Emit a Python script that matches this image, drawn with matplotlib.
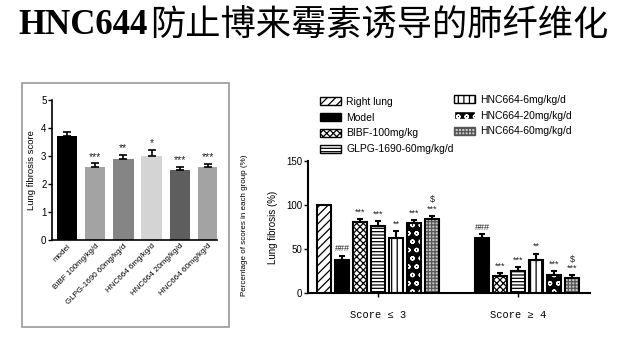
import numpy as np
import matplotlib
matplotlib.use('Agg')
import matplotlib.pyplot as plt
import matplotlib.patches as patches
from matplotlib.patches import Patch

plt.rcParams['font.family'] = ['Liberation Sans', 'DejaVu Sans']
plt.rcParams['hatch.linewidth'] = 0.9

# ---- data: left panel (lung fibrosis score) ----
left_groups = ['model', 'BIBF 100mg/kg/d', 'GLPG-1690 60mg/kg/d',
               'HNC664 6mg/kg/d', 'HNC664 20mg/kg/d', 'HNC664 60mg/kg/d']
left_means = [3.72, 2.62, 2.88, 3.00, 2.50, 2.60]
left_errs = [0.12, 0.12, 0.17, 0.21, 0.10, 0.11]
left_sig = ['', '***', '**', '*', '***', '***']
left_colors = ['#000000', '#a3a3a3', '#858585', '#d4d4d4', '#5e5e5e', '#a3a3a3']

# ---- data: right panel (percentage of scores) ----
series = ['Right lung', 'Model', 'BIBF-100mg/kg', 'GLPG-1690-60mg/kg/d',
          'HNC664-6mg/kg/d', 'HNC664-20mg/kg/d', 'HNC664-60mg/kg/d']
score_labels = ['Score \u2264 3', 'Score \u2265 4']
low_means = [100, 38, 80.5, 76, 63, 79, 84]
low_errs = [0, 4.5, 3.5, 5.5, 7, 3.5, 3.5]
high_means = [0, 62, 19, 24.5, 37, 20.5, 16.5]
high_errs = [0, 4.5, 3.5, 5, 7.5, 4.5, 3.5]
low_sig = ['', '###', '***', '***', '**', '***', '$\n***']
high_sig = ['', '###', '***', '***', '**', '***', '$\n***']

W, H = 626, 345
fig = plt.figure(figsize=(W / 100, H / 100), dpi=100)
fig.patch.set_facecolor('white')


def fx(px):
    return px / W


def fy(py):
    return 1 - py / H


# title
fig.text(fx(18), fy(26), 'HNC644', fontsize=25, weight='bold',
         family=['Liberation Serif', 'DejaVu Serif'], va='center', ha='left')
fig.text(fx(150), fy(25), '防止博来霉素诱导的肺纤维化', fontsize=25.4,
         family=['Noto Sans CJK SC', 'DejaVu Sans'], va='center', ha='left')

# left panel frame
fig.patches.append(patches.Rectangle((fx(22), fy(327)), fx(229) - fx(22), fy(83) - fy(327),
                                     transform=fig.transFigure, fill=False,
                                     edgecolor='#9a9a9a', lw=1.2))

# ---- left chart ----
ax1 = fig.add_axes([fx(52), fy(240), fx(217) - fx(52), fy(100) - fy(240)])
x1 = np.arange(len(left_groups))
ax1.bar(x1, left_means, width=0.72, color=left_colors, zorder=2)
ax1.errorbar(x1, left_means, yerr=[np.zeros(len(x1)), left_errs], fmt='none',
             ecolor='black', elinewidth=1.2, capsize=3, capthick=1.2, zorder=3)
for xi, m, e, s in zip(x1, left_means, left_errs, left_sig):
    if s:
        ax1.text(xi, m + e + 0.06, s, ha='center', va='bottom', fontsize=7.5,
                 color='#222222')
ax1.set_xlim(-0.53, 5.32)
ax1.set_ylim(0, 5)
ax1.set_yticks(range(6))
ax1.set_xticks(x1)
ax1.set_xticklabels(left_groups, rotation=45, ha='right', rotation_mode='anchor', fontsize=5.8)
ax1.tick_params(axis='y', labelsize=7, length=3, width=1, pad=1)
ax1.tick_params(axis='x', length=0, pad=2)
ax1.set_ylabel('Lung fibrosis score', fontsize=6.8, labelpad=4)
ax1.spines[['top', 'right']].set_visible(False)
ax1.spines[['left', 'bottom']].set_linewidth(1.2)

# ---- right chart ----
ax2 = fig.add_axes([fx(308), fy(293), fx(590) - fx(308), fy(161) - fy(293)])
styles = [
    dict(facecolor='white', hatch='////'),
    dict(facecolor='black', hatch=None),
    dict(facecolor='white', hatch='xxxxx'),
    dict(facecolor='white', hatch='-----'),
    dict(facecolor='white', hatch='|||'),
    dict(facecolor='black', hatch='oo', hcolor='white'),
    dict(facecolor='#c8c8c8', hatch='+++++', hcolor='#555555'),
]
offset2 = 7.78
bw = 0.78


def draw_bar(ax, x, h, st):
    if h <= 0:
        return
    if st.get('hcolor'):
        ax.bar(x, h, width=bw, facecolor=st['facecolor'], edgecolor=st['hcolor'],
               hatch=st['hatch'], lw=0, zorder=2)
        ax.bar(x, h, width=bw, fill=False, edgecolor='black', lw=1.5, zorder=2)
    else:
        ax.bar(x, h, width=bw, facecolor=st['facecolor'], edgecolor='black',
               hatch=st['hatch'], lw=1.5, zorder=2)


for means, errs, sigs, off in [(low_means, low_errs, low_sig, 0),
                               (high_means, high_errs, high_sig, offset2)]:
    for i, (m, e, s) in enumerate(zip(means, errs, sigs)):
        xi = off + i
        draw_bar(ax2, xi, m, styles[i])
        if m > 0 and e > 0:
            ax2.errorbar(xi, m, yerr=[[0], [e]], fmt='none', ecolor='black',
                         elinewidth=1.5, capsize=2.5, capthick=1.5, zorder=3)
        if s:
            ax2.text(xi, m + e + 3, s, ha='center', va='bottom', fontsize=6.5,
                     linespacing=1.0, color='#222222')

ax2.set_xlim(-0.89, 14.78)
ax2.set_ylim(0, 150)
ax2.set_yticks([0, 50, 100, 150])
ax2.set_xticks([3, offset2 + 3])
ax2.set_xticklabels(score_labels, fontsize=7.5,
                    family=['Liberation Mono', 'DejaVu Sans Mono'])
ax2.tick_params(axis='x', length=3, width=1, pad=9)
ax2.tick_params(axis='y', labelsize=7, length=3, width=1, pad=1)
ax2.set_ylabel('Lung fibrosis (%)', fontsize=7, labelpad=6)
ax2.spines[['top', 'right']].set_visible(False)
ax2.spines[['left', 'bottom']].set_linewidth(1.5)

fig.text(fx(245), fy(225), 'Percentage of scores in each group (%)', rotation=90,
         fontsize=5.8, ha='center', va='center')

# legend
handles = []
for name, st in zip(series, styles):
    if st.get('hcolor'):
        handles.append(Patch(facecolor=st['facecolor'], edgecolor=st['hcolor'],
                             hatch=st['hatch'], label=name))
    else:
        handles.append(Patch(facecolor=st['facecolor'], edgecolor='black',
                             hatch=st['hatch'], lw=1, label=name))
fig.legend(handles=handles[:4], loc='upper left', bbox_to_anchor=(fx(320), fy(97)),
           frameon=False, fontsize=7.5, handlelength=2.0, handleheight=0.8,
           labelspacing=0.55, handletextpad=0.5, borderpad=0, borderaxespad=0)
fig.legend(handles=handles[4:], loc='upper left', bbox_to_anchor=(fx(454), fy(95)),
           frameon=False, fontsize=7.5, handlelength=2.0, handleheight=0.8,
           labelspacing=0.55, handletextpad=0.5, borderpad=0, borderaxespad=0)

fig.savefig('out.png', dpi=100, facecolor=fig.get_facecolor())
